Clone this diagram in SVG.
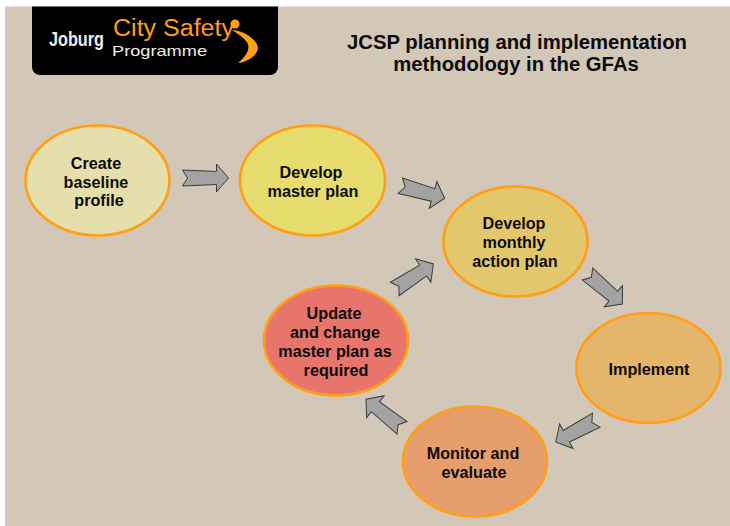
<svg xmlns="http://www.w3.org/2000/svg" width="730" height="526" viewBox="0 0 730 526">
<style>
.n{stroke:#ff9e17;stroke-width:2.600}
.t{font-family:"Liberation Sans",Arial,sans-serif;font-weight:bold;font-size:16.200px;fill:#0c0c0c;text-anchor:middle}
.h{font-family:"Liberation Sans",Arial,sans-serif;font-weight:bold;font-size:20.300px;fill:#0c0c0c;text-anchor:middle}
.a{fill:#a3a3a3;stroke:#3c3c3c;stroke-width:1;stroke-linejoin:miter}
.l{font-family:"Liberation Sans",Arial,sans-serif}
</style>
<defs>
<polygon id="arr" points="-23,-8 -18,0 -23,8 11,6.500 11,14 23,0 11,-14 11,-6.500"/>
</defs>
<rect width="730" height="526" fill="#fff"/>
<rect x="5" y="6.500" width="725" height="519.500" fill="#d3c7b8"/>
<g id="logo">
<path d="M32 6.500H278V67a8 8 0 0 1-8 8H40a8 8 0 0 1-8-8Z" fill="#000"/>
<text x="49" y="46" class="l" font-size="20" font-weight="bold" fill="#eee" textLength="55" lengthAdjust="spacingAndGlyphs">Joburg</text>
<text x="113" y="36" class="l" font-size="23" fill="#ff9e17" textLength="121" lengthAdjust="spacingAndGlyphs">City Safety</text>
<text x="112" y="56" class="l" font-size="15" fill="#eee" textLength="95" lengthAdjust="spacingAndGlyphs">Programme</text>
<circle cx="235" cy="24" r="4.500" fill="#ff9e17"/>
<path d="M232 30C247 31 258 42 258 48C257 56 247 62 238 63C246 56 252 48 246 41C242 36 236 33 232 30Z" fill="#ff9e17"/>
</g>
<g id="title">
<text x="517" y="49" class="h">JCSP planning and implementation</text>
<text x="516" y="71" class="h">methodology in the GFAs</text>
</g>
<g id="connectors">
<use href="#arr" class="a" transform="translate(205.500 178)"/>
<use href="#arr" class="a" transform="translate(422.500 192) rotate(15.700)"/>
<use href="#arr" class="a" transform="translate(605 289) rotate(40.700)"/>
<use href="#arr" class="a" transform="translate(576 431) rotate(151.700)"/>
<use href="#arr" class="a" transform="translate(384 413.500) rotate(218.500)"/>
<use href="#arr" class="a" transform="translate(414 276.500) rotate(-33)"/>
</g>
<g id="node-baseline">
<ellipse class="n" cx="97.500" cy="180.500" rx="72" ry="55" fill="#e6dfab"/>
<text class="t" x="96" y="168.500">Create</text>
<text class="t" x="96" y="187.500">baseline</text>
<text class="t" x="99" y="205.500">profile</text>
</g>
<g id="node-master">
<ellipse class="n" cx="312.500" cy="180.500" rx="72.500" ry="55" fill="#e6dd6e"/>
<text class="t" x="311" y="177.500">Develop</text>
<text class="t" x="313" y="196.500">master plan</text>
</g>
<g id="node-monthly">
<ellipse class="n" cx="515.500" cy="241.500" rx="72" ry="55" fill="#e3c76d"/>
<text class="t" x="514" y="228.500">Develop</text>
<text class="t" x="514" y="247.500">monthly</text>
<text class="t" x="515" y="266.500">action plan</text>
</g>
<g id="node-implement">
<ellipse class="n" cx="648.500" cy="368" rx="72" ry="55" fill="#e5b56c"/>
<text class="t" x="649" y="374.500">Implement</text>
</g>
<g id="node-monitor">
<ellipse class="n" cx="475" cy="461.500" rx="72" ry="55" fill="#e59e6c"/>
<text class="t" x="473" y="458.500">Monitor and</text>
<text class="t" x="474" y="477.500">evaluate</text>
</g>
<g id="node-update">
<ellipse class="n" cx="336" cy="340.500" rx="72" ry="55" fill="#e8756b"/>
<text class="t" x="334" y="318.500">Update</text>
<text class="t" x="335" y="337.500">and change</text>
<text class="t" x="335" y="356.500">master plan as</text>
<text class="t" x="336" y="375.500">required</text>
</g>
</svg>
